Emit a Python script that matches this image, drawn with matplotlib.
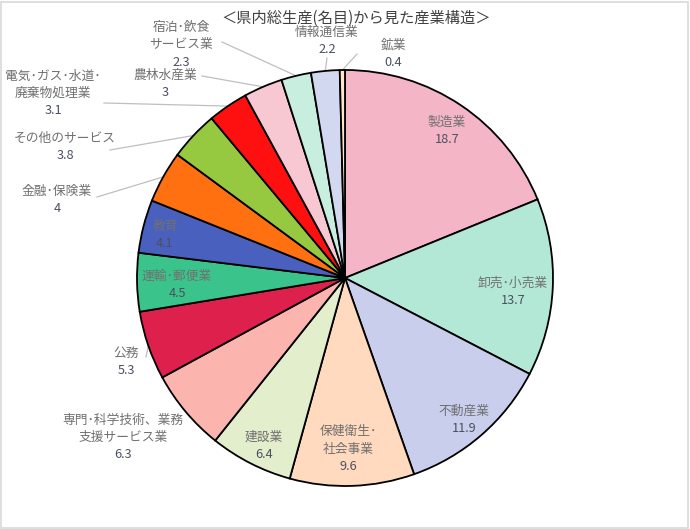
import matplotlib
matplotlib.use("Agg")
import matplotlib.pyplot as plt
import numpy as np

plt.rcParams['font.family'] = ['Noto Sans CJK JP', 'DejaVu Sans']

title = "＜県内総生産(名目)から見た産業構造＞"
categories = ["製造業", "卸売･小売業", "不動産業", "保健衛生･\n社会事業", "建設業",
              "専門･科学技術、業務\n支援サービス業", "公務", "運輸･郵便業", "教育",
              "金融･保険業", "その他のサービス", "電気･ガス･水道･\n廃棄物処理業",
              "農林水産業", "宿泊･飲食\nサービス業", "情報通信業", "鉱業"]
values = [18.7, 13.7, 11.9, 9.6, 6.4, 6.3, 5.3, 4.5, 4.1, 4.0, 3.8, 3.1, 3.0, 2.3, 2.2, 0.4]
value_labels = ["18.7", "13.7", "11.9", "9.6", "6.4", "6.3", "5.3", "4.5", "4.1", "4",
                "3.8", "3.1", "3", "2.3", "2.2", "0.4"]
colors = ["#F4B6C6", "#B4E8D6", "#C8CEEC", "#FFDABE", "#E2EECC", "#FCB4AF", "#DE204C",
          "#3AC48C", "#4A60BE", "#FF7010", "#96C840", "#FF1010", "#F8C8D2", "#C8EEE0",
          "#D2D8F0", "#FFE6C8"]

W, H = 690, 529
fig = plt.figure(figsize=(W / 100, H / 100), dpi=100)
ax = fig.add_axes([0, 0, 1, 1])

cx, cy, R = 345, H - 278, 208
wedges, _ = ax.pie(values, colors=colors, startangle=90, counterclock=False,
                   center=(cx, cy), radius=R, frame=True,
                   wedgeprops=dict(edgecolor='black', linewidth=1.3))
ax.set_xlim(0, W)
ax.set_ylim(0, H)
ax.set_aspect('equal')
ax.axis('off')

# border
fig.patches.append(plt.Rectangle((0.002, 0.002), 0.995, 0.995, transform=fig.transFigure,
                                 fill=False, edgecolor='#D9D9D9', linewidth=1.2))

ax.text(356, H - 18, title, ha='center', va='center', fontsize=11, color='#404040')

name_c = '#707070'
val_c = '#4A5060'
fs = 9.2

# label layout: (x, y of first line in image pixels)
label_pos = [(447, 122), (513, 283), (464, 411), (348, 432), (264, 437), (123, 420),
             (126, 353), (177, 276), (165, 226), (57, 191), (65, 138), (53, 76),
             (165, 75), (181, 27), (327, 32), (393, 45)]
line_h = 17.5

# leader starts (image pixels) for outside labels
leaders = {6: (146, 357), 9: (97, 197), 10: (110, 150), 11: (104, 103), 12: (202, 76),
           13: (222, 42), 14: (327, 58), 15: (357, 54)}

for i, (name, vl) in enumerate(zip(categories, value_labels)):
    x, y = label_pos[i]
    lines = name.split("\n")
    for j, ln in enumerate(lines):
        ax.text(x, H - (y + j * line_h), ln, ha='center', va='center', fontsize=fs, color=name_c)
    ax.text(x, H - (y + len(lines) * line_h), vl, ha='center', va='center', fontsize=fs, color=val_c)
    if i in leaders:
        w = wedges[i]
        mid = np.deg2rad((w.theta1 + w.theta2) / 2)
        ex, ey = cx + R * np.cos(mid), cy + R * np.sin(mid)
        sx, sy = leaders[i]
        ax.plot([sx, ex], [H - sy, ey], color='#BFBFBF', linewidth=0.9, zorder=0)

fig.savefig("out.png", dpi=100)
